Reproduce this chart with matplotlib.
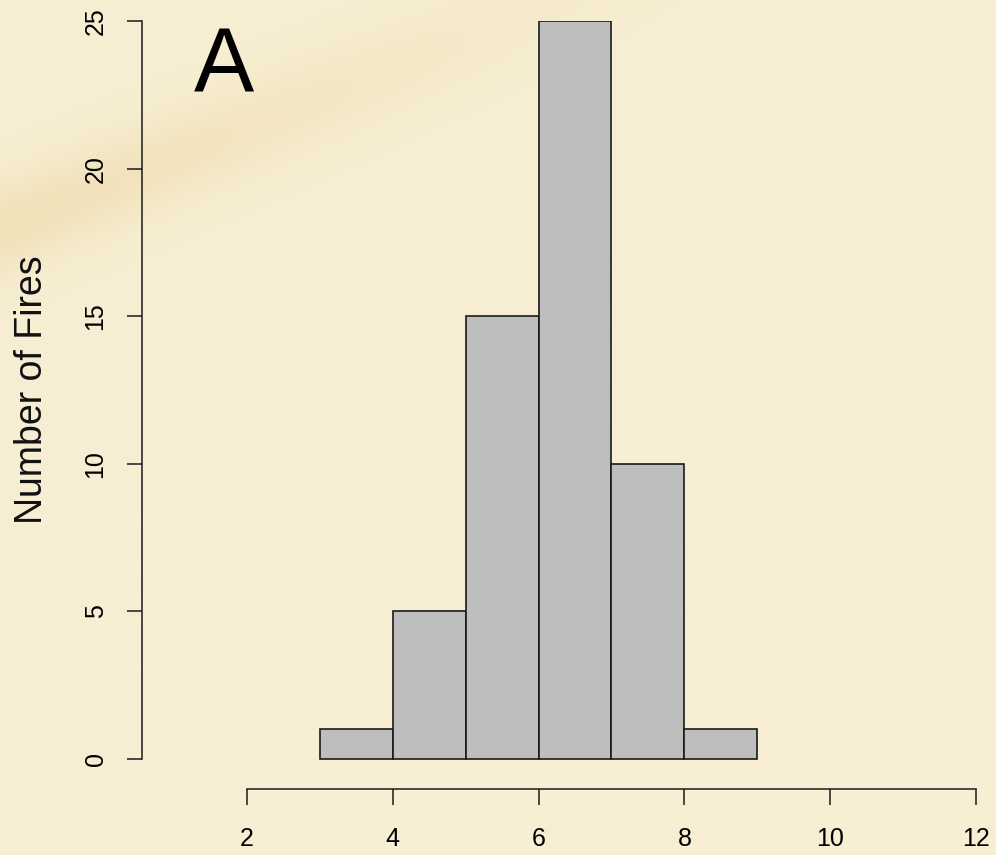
import matplotlib
matplotlib.use('Agg')
import matplotlib.pyplot as plt
import numpy as np

# histogram data
bin_edges = [3, 4, 5, 6, 7, 8, 9]
counts = [1, 5, 15, 25, 10, 1]
x_ticks = [2, 4, 6, 8, 10, 12]
y_ticks = [0, 5, 10, 15, 20, 25]

plt.rcParams['font.family'] = ['Liberation Sans', 'DejaVu Sans']

W, H = 996, 855
fig = plt.figure(figsize=(W / 100, H / 100), dpi=100)
fig.patch.set_facecolor('#f7eed3')

# parchment-like background with a soft orange streak at top-left
bg = fig.add_axes([0, 0, 1, 1], zorder=-5)
yy, xx = np.mgrid[0:H, 0:W]
base = np.array([247, 238, 211]) / 255.0
streak_col = np.array([236, 212, 158]) / 255.0
# distance from a diagonal line running from (0, 230) to (560, 0) in pixel coords
d = (xx * 230 + yy * 560 - 230 * 560) / np.hypot(230, 560)
fade = np.clip(1 - xx / 750.0, 0, 1)
w = np.exp(-(d / 45.0) ** 2) * fade * 0.5
img = base[None, None, :] * (1 - w[..., None]) + streak_col[None, None, :] * w[..., None]
bg.imshow(img, extent=[0, W, 0, H], origin='upper', aspect='auto')
bg.axis('off')

# main axes placed so the data lands on the same pixels as the reference
ax = fig.add_axes([142 / W, 66 / H, (976 - 142) / W, (834 - 66) / H])
ax.set_facecolor('none')
ax.set_xlim(0.56, 12)
ax.set_ylim(-1.016, 25)

ax.bar(bin_edges[:-1], counts, width=np.diff(bin_edges), align='edge',
       color='#bebebe', edgecolor='#1a1a1a', linewidth=1.2)

for s in ['top', 'right']:
    ax.spines[s].set_visible(False)
ax.spines['left'].set_bounds(0, 25)
ax.spines['bottom'].set_bounds(2, 12)
for s in ['left', 'bottom']:
    ax.spines[s].set_linewidth(1.1)
    ax.spines[s].set_color('#1a1a1a')

ax.set_xticks(x_ticks)
ax.set_yticks(y_ticks)
ax.set_xticklabels([str(v) for v in x_ticks], fontsize=18)
ax.set_yticklabels([str(v) for v in y_ticks], fontsize=18, rotation=90, va='center')
ax.tick_params(axis='x', length=11.5, width=1.1, pad=16, color='#1a1a1a')
ax.tick_params(axis='y', length=10.8, width=1.1, pad=14, color='#1a1a1a')

fig.text(32 / W, 465 / H, 'Number of Fires', rotation=90, ha='center', va='center',
         fontsize=27, color='#111111')
fig.text(224 / W, 764 / H, 'A', ha='center', va='baseline', fontsize=65, color='#000000')

fig.savefig('out.png', dpi=100, facecolor=fig.get_facecolor())
